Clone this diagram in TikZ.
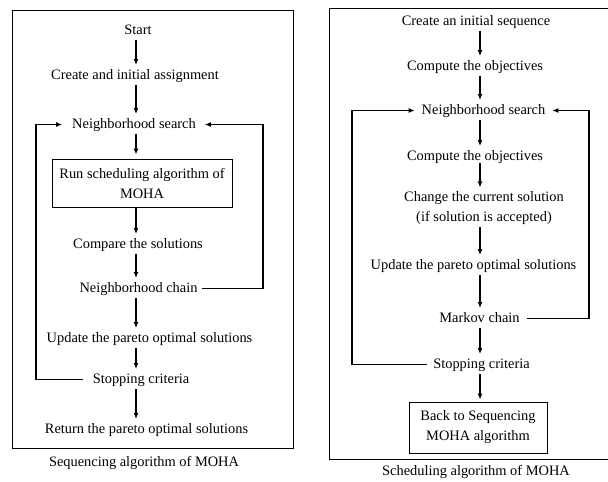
\documentclass[tikz,border=0pt]{standalone}
\usepackage{fontspec}
\setmainfont{Liberation Serif}
\usetikzlibrary{arrows.meta,calc}
\begin{document}
\begin{tikzpicture}[x=1pt,y=-1pt,
  txt/.style={font=\fontsize{14.4}{20}\selectfont, inner sep=0pt, outer sep=0pt, text height=10pt, text depth=3pt, anchor=base},
  multi/.style={font=\fontsize{14.4}{20}\selectfont, inner sep=0pt, outer sep=0pt, align=center},
  boxnode/.style={draw, line width=0.9pt, font=\fontsize{14.4}{20}\selectfont, inner sep=0pt, align=center},
  frame/.style={line width=0.9pt},
  arr/.style={line width=1.3pt, -{Latex[length=6pt,width=5pt]}, shorten <=2.5pt, shorten >=4pt},
  loop/.style={line width=1.4pt, -{Latex[length=6pt,width=5pt]}},
  seg/.style={line width=1.3pt}]
\useasboundingbox (0,0) rectangle (608,482);
\clip (0,0) rectangle (608,482);

% ---------- left panel ----------
\draw[frame] (12,10) rectangle (293,448);
\coordinate (axL) at (136,0);
\coordinate (lpL) at (36,0);
\coordinate (rpL) at (263,0);

\node[txt] (startL) at (138,34) {Start};
\node[txt] (createL) at (135,79) {Create and initial assignment};
\node[txt] (nsL) at (134,128) {Neighborhood search};
\node[boxnode, minimum width=180pt, minimum height=48pt] (runL) at (142,183) {Run scheduling algorithm of\\MOHA};
\node[txt] (cmpL) at (138,248) {Compare the solutions};
\node[txt] (chainL) at (138.5,292) {Neighborhood chain};
\node[txt] (updL) at (149.5,342) {Update the pareto optimal solutions};
\node[txt] (stopL) at (141,383) {Stopping criteria};
\node[txt] (retL) at (146.5,433) {Return the pareto optimal solutions};
\node[txt] (capL) at (144,466) {Sequencing algorithm of MOHA};

\draw[arr] (startL.south -| axL) -- (createL.north -| axL);
\draw[arr] (createL.south -| axL) -- (nsL.north -| axL);
\draw[arr] (nsL.south -| axL) -- (runL.north -| axL);
\draw[arr, shorten <=1pt] (runL.south -| axL) -- (cmpL.north -| axL);
\draw[arr] (cmpL.south -| axL) -- (chainL.north -| axL);
\draw[arr] (chainL.south -| axL) -- (updL.north -| axL);
\draw[arr] (updL.south -| axL) -- (stopL.north -| axL);
\draw[arr] (stopL.south -| axL) -- (retL.north -| axL);

\draw[loop] ([xshift=-10pt]stopL.west) -- (stopL.west -| lpL) -- (nsL.west -| lpL) -- ([xshift=-10pt]nsL.west);
\draw[loop] ([xshift=5pt]chainL.east) -- (chainL.east -| rpL) -- (nsL.east -| rpL) -- ([xshift=9pt]nsL.east);

% ---------- right panel ----------
\draw[frame] (620,8) -- (329,8) -- (329,459) -- (620,459);
\coordinate (axR) at (480,0);
\coordinate (lpR) at (352,0);
\coordinate (rpR) at (589,0);

\node[txt] (createR) at (476,25) {Create an initial sequence};
\node[txt] (compR) at (475,70) {Compute the objectives};
\node[txt] (nsR) at (483.5,114) {Neighborhood search};
\node[txt] (comp2R) at (475,160) {Compute the objectives};
\node[multi] (chgR) at (484,208) {Change the current solution\\(if solution is accepted)};
\node[txt] (updR) at (473.5,269) {Update the pareto optimal solutions};
\node[txt] (mkR) at (479.5,322) {Markov chain};
\node[txt] (stopR) at (481.5,368) {Stopping criteria};
\node[boxnode, minimum width=138pt, minimum height=51pt] (backR) at (478,427.5) {Back to Sequencing\\MOHA algorithm};
\node[txt] (capR) at (476,475) {Scheduling algorithm of MOHA};

\draw[arr] (createR.south -| axR) -- (compR.north -| axR);
\draw[arr] (compR.south -| axR) -- (nsR.north -| axR);
\draw[arr] (nsR.south -| axR) -- (comp2R.north -| axR);
\draw[arr, shorten <=0pt] (comp2R.south -| axR) -- (chgR.north -| axR);
\draw[arr] (chgR.south -| axR) -- (updR.north -| axR);
\draw[arr] (updR.south -| axR) -- (mkR.north -| axR);
\draw[arr] (mkR.south -| axR) -- (stopR.north -| axR);
\draw[arr, shorten >=2pt] (stopR.south -| axR) -- (backR.north -| axR);

\draw[loop] ([xshift=-6pt]stopR.west) -- (stopR.west -| lpR) -- (nsR.west -| lpR) -- ([xshift=-7pt]nsR.west);
\draw[loop] ([xshift=7pt]mkR.east) -- (mkR.east -| rpR) -- (nsR.east -| rpR) -- ([xshift=7pt]nsR.east);
\end{tikzpicture}
\end{document}
